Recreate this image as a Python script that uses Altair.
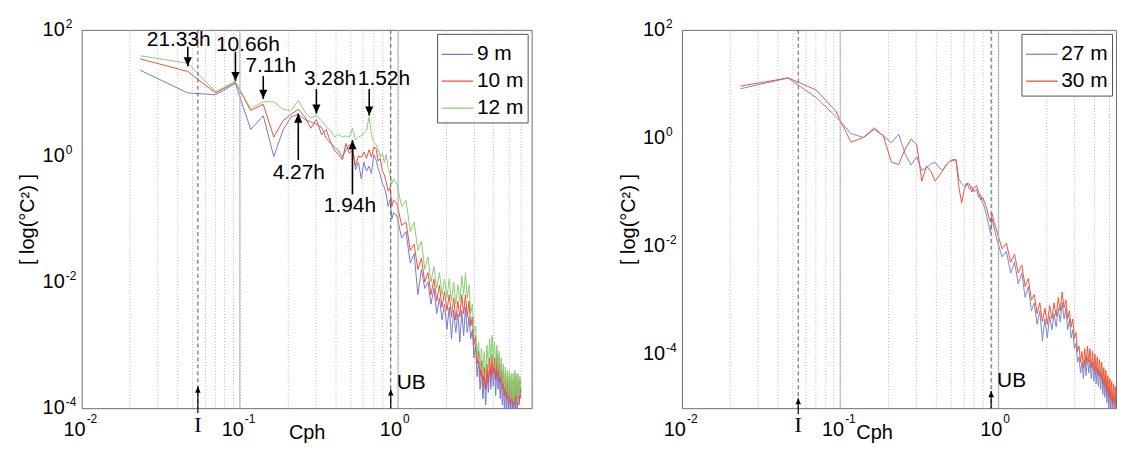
import altair as alt
import pandas as pd

# ---------------- data ----------------
BASE_PERIOD_H = 42.67                      # fundamental period (h) of the spectral estimate
HARM_LOW = list(range(1, 41))              # harmonic numbers, every one
HARM_HIGH = list(range(42, 256, 3))        # harmonic numbers, every third

# log10 spectral density, left panel
L9_LOW = [1.36, 1.00, 0.97, 1.15, 0.42, 0.64, -0.01, 0.41, 0.62, 0.66, 0.58, 0.54, 0.50, 0.46, 0.28, 0.20,
          0.14, 0.08, -0.02, 0.10, 0.18, 0.16, -0.22, -0.10, -0.36, -0.10, -0.24, -0.16, -0.28, 0.02, -0.06,
          -0.20, -0.30, -0.44, -0.50, -0.62, -0.80, -0.70, -1.00, -0.90]
L10_LOW = [1.54, 1.34, 1.00, 1.17, 0.72, 0.82, 0.30, 0.56, 0.66, 0.74, 0.62, 0.44, 0.58, 0.34, 0.42, 0.22,
           0.08, 0.02, -0.06, 0.20, 0.04, 0.10, -0.16, 0.00, -0.02, 0.06, -0.04, 0.10, -0.02, 0.14, 0.12,
           -0.08, -0.04, -0.24, -0.30, -0.42, -0.56, -0.50, -0.80, -0.70]
L12_LOW = [1.59, 1.47, 1.02, 1.18, 0.75, 0.86, 0.86, 0.74, 0.72, 0.88, 0.70, 0.60, 0.64, 0.56, 0.46, 0.40,
           0.30, 0.34, 0.30, 0.32, 0.30, 0.44, 0.26, 0.30, 0.32, 0.36, 0.40, 0.62, 0.34, 0.22, 0.18,
           0.10, -0.02, 0.04, -0.10, 0.02, -0.18, -0.30, -0.44, -0.36]
L9_HIGH = [-0.95, -1.30, -1.20, -1.70, -1.55, -2.20, -1.80, -2.10, -2.00, -2.35,
           -2.10, -2.50, -2.25, -2.60, -2.35, -2.75, -2.40, -2.90, -2.45, -2.80,
           -2.50, -2.95, -2.45, -2.85, -2.40, -2.80, -2.55, -2.90, -2.75, -3.20,
           -3.00, -3.50, -3.25, -3.70, -3.40, -3.85, -3.50, -3.95, -3.45, -3.75,
           -3.35, -3.70, -3.30, -3.65, -3.35, -3.80, -3.30, -3.70, -3.40, -3.85,
           -3.45, -3.95, -3.60, -4.05, -3.65, -4.05, -3.60, -4.10, -3.70, -4.05,
           -3.65, -4.10, -3.70, -4.05, -3.65, -4.10, -3.70, -4.05, -3.60, -3.95,
           -3.70, -3.85]
L10_HIGH = [-0.75, -1.10, -1.05, -1.50, -1.40, -1.80, -1.62, -2.00, -1.85, -2.20,
            -1.95, -2.30, -2.05, -2.40, -2.15, -2.45, -2.20, -2.55, -2.25, -2.60,
            -2.30, -2.55, -2.20, -2.50, -2.20, -2.55, -2.30, -2.70, -2.55, -3.00,
            -2.85, -3.30, -3.10, -3.50, -3.25, -3.65, -3.35, -3.70, -3.30, -3.60,
            -3.20, -3.50, -3.15, -3.45, -3.20, -3.55, -3.15, -3.50, -3.20, -3.60,
            -3.30, -3.70, -3.40, -3.80, -3.45, -3.85, -3.45, -3.90, -3.50, -3.95,
            -3.50, -3.90, -3.55, -3.95, -3.50, -3.90, -3.55, -3.98, -3.50, -3.85,
            -3.55, -3.75]
L12_HIGH = [-0.45, -0.80, -0.70, -1.20, -1.05, -1.50, -1.35, -1.80, -1.60, -2.00,
            -1.75, -2.10, -1.85, -2.20, -1.95, -2.25, -1.95, -2.30, -2.00, -2.35,
            -2.05, -2.30, -1.90, -2.20, -1.85, -2.25, -2.05, -2.50, -2.35, -2.80,
            -2.70, -3.15, -2.95, -3.35, -3.05, -3.45, -3.10, -3.45, -3.00, -3.35,
            -2.90, -3.25, -2.85, -3.20, -2.95, -3.35, -3.00, -3.40, -3.10, -3.50,
            -3.20, -3.60, -3.30, -3.70, -3.35, -3.75, -3.40, -3.80, -3.40, -3.85,
            -3.45, -3.85, -3.45, -3.90, -3.40, -3.80, -3.45, -3.90, -3.45, -3.80,
            -3.50, -3.70]

# log10 spectral density, right panel
R27_LOW = [0.91, 1.11, 0.75, 0.40, 0.08, 0.01, 0.19, 0.04, -0.09, 0.07, -0.30, -0.50, -0.35, -0.60, -0.55,
           -0.48, -0.45, -0.55, -0.60, -0.50, -0.43, -0.40, -0.40, -0.75, -0.85, -0.90, -0.83, -0.95, -0.90,
           -1.00, -0.95, -1.10, -1.05, -1.20, -1.30, -1.45, -1.60, -1.75, -1.50, -1.65]
R30_LOW = [0.96, 1.11, 0.89, 0.50, -0.08, 0.01, 0.16, 0.04, -0.45, -0.49, -0.20, -0.02, -0.12, -0.80, -0.52,
           -0.62, -0.80, -0.70, -0.60, -0.50, -0.43, -0.42, -0.40, -0.90, -1.20, -0.95, -0.85, -0.85, -1.00,
           -0.92, -0.88, -1.00, -1.15, -1.10, -1.20, -1.30, -1.45, -1.55, -1.40, -1.55]
R27_HIGH = [-1.90, -2.20, -2.10, -2.50, -2.30, -2.70, -2.50, -2.95, -2.75, -3.20,
            -3.05, -3.45, -3.20, -3.75, -3.35, -3.70, -3.30, -3.55, -3.25, -3.50,
            -3.15, -3.40, -3.05, -3.35, -3.15, -3.55, -3.35, -3.70, -3.55, -3.90,
            -3.80, -4.15, -4.05, -4.35, -4.15, -4.45, -4.10, -4.40, -4.05, -4.35,
            -4.10, -4.45, -4.15, -4.50, -4.20, -4.55, -4.25, -4.60, -4.30, -4.65,
            -4.35, -4.75, -4.45, -4.80, -4.50, -4.90, -4.60, -5.00, -4.65, -5.05,
            -4.70, -5.10, -4.75, -5.05, -4.80, -5.10, -4.85, -5.10, -4.80, -5.05,
            -4.85, -5.00]
R30_HIGH = [-1.75, -2.05, -1.95, -2.30, -2.15, -2.50, -2.35, -2.75, -2.60, -3.00,
            -2.90, -3.25, -3.05, -3.40, -3.15, -3.45, -3.10, -3.35, -3.05, -3.30,
            -2.95, -3.20, -2.85, -3.15, -3.00, -3.35, -3.20, -3.50, -3.35, -3.70,
            -3.60, -3.95, -3.85, -4.15, -3.95, -4.25, -3.90, -4.20, -3.85, -4.15,
            -3.90, -4.25, -3.95, -4.30, -4.00, -4.35, -4.05, -4.40, -4.10, -4.45,
            -4.15, -4.55, -4.25, -4.60, -4.30, -4.70, -4.40, -4.80, -4.45, -4.85,
            -4.50, -4.95, -4.55, -4.90, -4.60, -5.00, -4.65, -4.95, -4.60, -4.90,
            -4.65, -4.85]

LEFT_SERIES = ["9 m", "10 m", "12 m"]
RIGHT_SERIES = ["27 m", "30 m"]
LEFT_COLORS = ["#7479cf", "#ef4f37", "#86cf72"]
RIGHT_COLORS = ["#7c86cc", "#ee5533"]

I_FREQ = 0.0543          # inertial frequency marker (cph)
UB_FREQ = 0.90           # buoyancy upper bound marker (cph)

ANN_LABELS = ["21.33h", "10.66h", "7.11h", "3.28h", "1.52h", "4.27h", "1.94h"]
ANN_PERIODS = [21.33, 10.66, 7.11, 3.28, 1.52, 4.27, 1.94]
ANN_TEXT_X = [0.0411, 0.1125, 0.157, 0.372, 0.815, 0.236, 0.497]
ANN_TEXT_Y = [69.8, 58.3, 26.4, 16.5, 16.5, 0.542, 0.160]
ANN_FROM_Y = [54.2, 45.3, 18.5, 11.5, 11.5, 0.866, 0.246]
ANN_TO_Y = [26.4, 15.4, 8.06, 4.70, 4.37, 4.70, 1.778]
ANN_DIR = ["down", "down", "down", "down", "down", "up", "up"]

GRID_X = [0.02, 0.03, 0.04, 0.05, 0.06, 0.07, 0.08, 0.09, 0.1, 0.2, 0.3, 0.4, 0.5, 0.6, 0.7, 0.8, 0.9,
          1, 2, 3, 4, 5, 6, 7]
GRID_MAJOR = [0.1, 1]
XTICK_VALS = [0.01, 0.1, 1]
XTICK_EXP = ["-2", "-1", "0"]
YTICK_VALS = [100, 1, 0.01, 0.0001]
YTICK_EXP = ["2", "0", "-2", "-4"]

FONT = "Liberation Sans"
DOWN = "M0,0L-0.45,-1L0.45,-1Z"
UP = "M0,0L-0.45,1L0.45,1Z"


def series_frame(name, low, high):
    ks = HARM_LOW + HARM_HIGH
    vals = low + high
    return pd.DataFrame({"f": [k / BASE_PERIOD_H for k in ks],
                         "v": [10 ** x for x in vals],
                         "series": name})


def panel(df, order, colors, ymin, xmax, width, height, i_tip, i_base, ub_tip, ub_text_y,
          ann=None, xtitle_x=None):
    xs = alt.Scale(type="log", domain=[0.01, xmax])
    ys = alt.Scale(type="log", domain=[ymin, 100])
    xaxis_kw = dict(values=[g for g in GRID_X if g < xmax], labels=False, ticks=False, domain=False,
                    grid=True, gridColor="#b8b8b8", gridDash=[1, 2], gridWidth=1,
                    title="Cph", titleFont=FONT, titleFontSize=20, titleFontWeight="normal",
                    titleColor="black", titlePadding=14)
    if xtitle_x is not None:
        xaxis_kw.update(titleX=xtitle_x, titleAlign="center")
    xaxis = alt.Axis(**xaxis_kw)
    yaxis = alt.Axis(values=YTICK_VALS, labels=False, ticks=False, domain=False, grid=False,
                     title="[ log(°C²) ]", titleFont=FONT, titleFontSize=20, titleFontWeight="normal",
                     titleColor="black", titlePadding=44)
    legend = alt.Legend(title=None, orient="top-right", offset=4, labelFont=FONT, labelFontSize=21,
                        labelColor="black", symbolType="stroke", symbolSize=1000, symbolStrokeWidth=1.3,
                        strokeColor="#555555", fillColor="white", padding=4, rowPadding=-5, labelOffset=3)

    X = lambda f: alt.X(f, scale=xs, axis=xaxis)
    Y = lambda f: alt.Y(f, scale=ys, axis=yaxis)

    major = alt.Chart(pd.DataFrame({"x": GRID_MAJOR})).mark_rule(
        color="#b0b0b0", strokeWidth=1).encode(x=X("x:Q"))
    dashed = alt.Chart(pd.DataFrame({"x": [I_FREQ, UB_FREQ]})).mark_rule(
        color="#555555", strokeDash=[4, 3], strokeWidth=1).encode(x=X("x:Q"))

    lines = alt.Chart(df).mark_line(strokeWidth=1, clip=True).encode(
        x=X("f:Q"),
        y=Y("v:Q"),
        color=alt.Color("series:N", scale=alt.Scale(domain=order, range=colors), legend=legend),
    )

    small = pd.DataFrame({"x": [I_FREQ, UB_FREQ], "y1": [i_base, ymin], "y2": [i_tip, ub_tip]})
    small_rule = alt.Chart(small).mark_rule(color="black", strokeWidth=1.2).encode(
        x=X("x:Q"), y=Y("y1:Q"), y2="y2:Q")
    small_head = alt.Chart(small).mark_point(shape=UP, filled=True, size=150, color="black",
                                             opacity=1).encode(x=X("x:Q"), y=Y("y2:Q"))
    i_text = alt.Chart(pd.DataFrame({"x": [I_FREQ], "y": [ymin]})).mark_text(
        text="I", font="Liberation Serif", fontSize=22, dy=17, baseline="middle", color="black").encode(
        x=X("x:Q"), y=Y("y:Q"))
    ub_text = alt.Chart(pd.DataFrame({"x": [UB_FREQ], "y": [ub_text_y]})).mark_text(
        text="UB", font=FONT, fontSize=21, dx=6, align="left", baseline="middle", color="black").encode(
        x=X("x:Q"), y=Y("y:Q"))

    yt = pd.DataFrame({"x": [0.01] * len(YTICK_VALS), "v": YTICK_VALS, "exp": YTICK_EXP})
    y_base = alt.Chart(yt).mark_text(text="10", font=FONT, fontSize=20, align="right", baseline="middle",
                                     dx=-17, color="black").encode(x=X("x:Q"), y=Y("v:Q"))
    y_exp = alt.Chart(yt).mark_text(font=FONT, fontSize=12, align="left", baseline="middle",
                                    dx=-16, dy=-6, color="black").encode(x=X("x:Q"), y=Y("v:Q"), text="exp:N")
    xt = pd.DataFrame({"f": XTICK_VALS, "y": [ymin] * len(XTICK_VALS), "exp": XTICK_EXP})
    x_base = alt.Chart(xt).mark_text(text="10", font=FONT, fontSize=20, align="right", baseline="middle",
                                     dx=4, dy=22, color="black").encode(x=X("f:Q"), y=Y("y:Q"))
    x_exp = alt.Chart(xt).mark_text(font=FONT, fontSize=12, align="left", baseline="middle",
                                    dx=5, dy=11, color="black").encode(x=X("f:Q"), y=Y("y:Q"), text="exp:N")

    layers = [lines, major, dashed, small_rule, small_head, i_text, ub_text, y_base, y_exp, x_base, x_exp]
    if ann is not None:
        a_rule = alt.Chart(ann).mark_rule(color="black", strokeWidth=1.6).encode(
            x=X("ax:Q"), y=Y("y1:Q"), y2="y2:Q")
        a_head = alt.Chart(ann).mark_point(filled=True, size=330, color="black", opacity=1).encode(
            x=X("ax:Q"), y=Y("y2:Q"),
            shape=alt.Shape("dir:N", scale=alt.Scale(domain=["down", "up"], range=[DOWN, UP]), legend=None))
        a_text = alt.Chart(ann).mark_text(font=FONT, fontSize=21, align="center", baseline="middle",
                                          color="black").encode(x=X("tx:Q"), y=Y("ty:Q"), text="label:N")
        layers += [a_rule, a_head, a_text]
    return alt.layer(*layers).properties(width=width, height=height)


left_df = pd.concat([series_frame("9 m", L9_LOW, L9_HIGH),
                     series_frame("10 m", L10_LOW, L10_HIGH),
                     series_frame("12 m", L12_LOW, L12_HIGH)], ignore_index=True)
right_df = pd.concat([series_frame("27 m", R27_LOW, R27_HIGH),
                      series_frame("30 m", R30_LOW, R30_HIGH)], ignore_index=True)

ann_df = pd.DataFrame({"label": ANN_LABELS, "ax": [1 / p for p in ANN_PERIODS],
                       "tx": ANN_TEXT_X, "ty": ANN_TEXT_Y, "y1": ANN_FROM_Y, "y2": ANN_TO_Y, "dir": ANN_DIR})

left = panel(left_df, LEFT_SERIES, LEFT_COLORS, 1e-4, 7, 452, 380,
             i_tip=2.2e-4, i_base=8.4e-5, ub_tip=1.98e-4, ub_text_y=2.55e-4, ann=ann_df)
right = panel(right_df, RIGHT_SERIES, RIGHT_COLORS, 1e-5, 5.54, 436, 380,
              i_tip=1.53e-5, i_base=7.8e-6, ub_tip=2.07e-5, ub_text_y=3.16e-5, xtitle_x=193)

chart = alt.hconcat(left, right, spacing=85).resolve_scale(color="independent", shape="independent") \
    .resolve_legend(color="independent") \
    .configure_view(stroke="#6e6e6e", strokeWidth=1) \
    .properties(padding={"left": 9, "top": 8, "right": 0, "bottom": 0}, background="white")

chart.save("out.html", embed_options={"renderer": "svg", "actions": False})
